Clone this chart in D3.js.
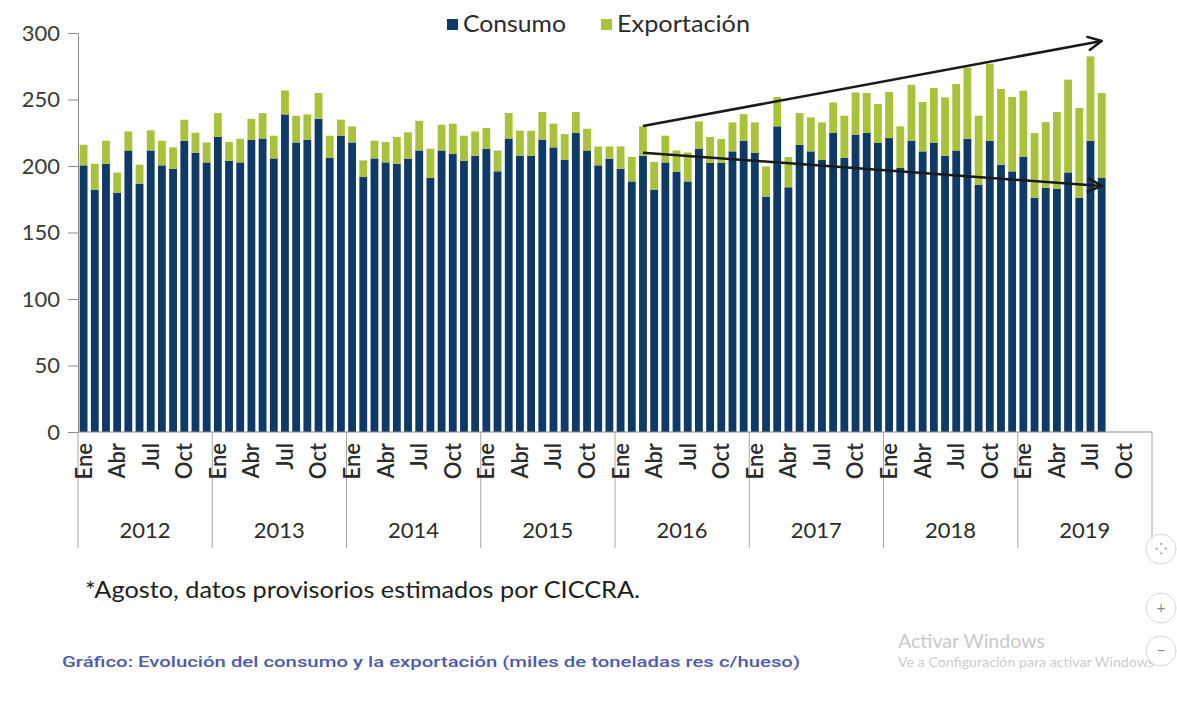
<!DOCTYPE html>
<html>
<head>
<meta charset="utf-8">
<script src="https://cdn.jsdelivr.net/npm/d3@7"></script>
<style>
  body { margin: 0; background: #fff; }
  svg { display: block; font-family: Lato, 'Open Sans', sans-serif; }
</style>
</head>
<body>
<svg id="svg" width="1177" height="702"></svg>
<script>
const years = [2012, 2013, 2014, 2015, 2016, 2017, 2018, 2019]
const meses = ['Ene', 'Feb', 'Mar', 'Abr', 'May', 'Jun', 'Jul', 'Ago', 'Sep', 'Oct', 'Nov', 'Dic']
const monthLabels = ['Ene', 'Abr', 'Jul', 'Oct']
const yTicks = [0, 50, 100, 150, 200, 250, 300]
const series = ['Consumo', 'Exportación']

// miles de toneladas res c/hueso, Ene 2012 - Ago 2019
const consumo = [
  200.5, 182, 201.7, 180, 211.7, 186.7, 211.7, 200.5, 198, 219, 210, 202.7,
  222, 204, 202.7, 219.8, 220.7, 205.7, 238.8, 217.7, 219.8, 235.5, 206, 222.8,
  217.7, 191.7, 205.7, 202.7, 201.7, 205.3, 211.7, 191, 211.7, 209, 204, 207.7,
  213, 196, 220.7, 207.7, 207.7, 219.8, 214, 204.7, 224.8, 211.7, 200.5, 205.5,
  198, 188.4, 207.7, 182.2, 202.7, 195.7, 188.4, 212.8, 202.3, 202.3, 211, 219,
  209.8, 177, 229.8, 184, 216, 211, 204.7, 224.8, 206, 223.5, 224.8, 217.3,
  221, 198.5, 219, 211, 217.3, 207.7, 211.7, 220.5, 186, 219, 201, 196,
  206.8, 176, 183.5, 183, 195.2, 176, 219, 191
]
const exportacion = [
  15.5, 19.7, 17.3, 15, 14.3, 14.3, 15.1, 18.5, 16, 15.8, 15, 15,
  17.8, 14, 17.8, 15.7, 19.1, 17.1, 18, 20.1, 19, 19.4, 16.8, 12,
  12.1, 12.5, 13.3, 15.3, 20.1, 20, 22.3, 22, 19.3, 22.8, 18.8, 18.3,
  15.6, 15.7, 19.1, 18.8, 18.8, 20.8, 17.8, 19.3, 15.8, 16.3, 14.2, 9.2,
  16.7, 18.4, 22.1, 20.8, 20.1, 16, 21.8, 20.7, 19.5, 18, 21.8, 20,
  23, 22.7, 22.1, 22.8, 23.8, 25.5, 28.1, 23, 31.8, 31.8, 30.1, 29.3,
  34.6, 31.3, 42, 37.1, 41.3, 43.9, 49.9, 53.5, 51.8, 57.9, 56.9, 55.9,
  49.8, 48.8, 49.5, 57.6, 69.7, 67.6, 63.4, 63.9
]

// flechas de tendencia dibujadas sobre el grafico
const tendencias = [
  { desde: 'Mar 2016', hasta: 'Ago 2019', v0: 230, v1: 294 },
  { desde: 'Mar 2016', hasta: 'Ago 2019', v0: 210, v1: 185 }
]

const nota = '*Agosto, datos provisorios estimados por CICCRA.'
const titulo = 'Gráfico: Evolución del consumo y la exportación (miles de toneladas res c/hueso)'

const colors = { Consumo: '#0f3a68', 'Exportación': '#a9c23c' }

const months = years.flatMap(y => meses.map(m => `${m} ${y}`))
const data = consumo.map((c, i) => ({ key: months[i], Consumo: c, 'Exportación': exportacion[i] }))

const plotLeft = 78
const plotRight = 1152
const plotTop = 33
const plotBottom = 432

const xScale = d3.scaleBand()
  .domain(months)
  .range([plotLeft, plotRight])
  .paddingInner(0.3)
  .paddingOuter(0.15)

const yScale = d3.scaleLinear()
  .domain([0, 300])
  .range([plotBottom, plotTop])

const svg = d3.select('#svg')
const bw = xScale.bandwidth()
const slotStart = m => xScale(m) - xScale.step() * 0.15

// barras apiladas
const stacked = d3.stack().keys(series)(data)
svg.append('g')
  .selectAll('g')
  .data(stacked)
  .join('g')
  .attr('fill', d => colors[d.key])
  .selectAll('rect')
  .data(d => d)
  .join('rect')
  .attr('x', d => xScale(d.data.key))
  .attr('y', d => yScale(d[1]))
  .attr('width', bw)
  .attr('height', d => yScale(d[0]) - yScale(d[1]))

// eje y
const yAxis = svg.append('g')
  .attr('transform', `translate(${plotLeft}, 0)`)
  .call(d3.axisLeft(yScale).tickValues(yTicks).tickSize(10).tickPadding(8).tickSizeOuter(0))
yAxis.select('.domain').attr('stroke', '#8c8c8c')
yAxis.selectAll('.tick line').attr('stroke', '#8c8c8c')
yAxis.selectAll('.tick text')
  .attr('font-size', 22)
  .attr('fill', '#3a3a3a')
  .attr('font-family', 'Lato, sans-serif')

// eje x
svg.append('line')
  .attr('x1', plotLeft).attr('x2', plotRight)
  .attr('y1', plotBottom).attr('y2', plotBottom)
  .attr('stroke', '#8c8c8c')

const bounds = years.map(y => slotStart(`Ene ${y}`)).concat([plotRight])
svg.append('g')
  .selectAll('line')
  .data(bounds)
  .join('line')
  .attr('x1', d => d).attr('x2', d => d)
  .attr('y1', plotBottom).attr('y2', 548)
  .attr('stroke', '#a6a6a6')

svg.append('g')
  .selectAll('text')
  .data(months.filter(m => monthLabels.includes(m.split(' ')[0])))
  .join('text')
  .attr('transform', d => `translate(${xScale(d) + bw / 2}, 443) rotate(-90)`)
  .attr('text-anchor', 'end')
  .attr('dy', '0.36em')
  .attr('font-size', 22)
  .attr('font-weight', 600)
  .attr('fill', '#2b2b2b')
  .text(d => d.split(' ')[0])

svg.append('g')
  .selectAll('text')
  .data(years)
  .join('text')
  .attr('x', d => (slotStart(`Ene ${d}`) + slotStart(`Dic ${d}`) + xScale.step()) / 2)
  .attr('y', 538)
  .attr('text-anchor', 'middle')
  .attr('font-size', 22)
  .attr('fill', '#2b2b2b')
  .text(d => d)

// flechas
svg.append('defs').append('marker')
  .attr('id', 'head')
  .attr('viewBox', '0 0 12 12')
  .attr('refX', 11)
  .attr('refY', 6)
  .attr('markerWidth', 17)
  .attr('markerHeight', 17)
  .attr('markerUnits', 'userSpaceOnUse')
  .attr('orient', 'auto')
  .append('path')
  .attr('d', 'M1,1 L11,6 L1,11')
  .attr('fill', 'none')
  .attr('stroke', '#1a1a1a')
  .attr('stroke-width', 1.8)

svg.append('g')
  .selectAll('line')
  .data(tendencias)
  .join('line')
  .attr('x1', d => xScale(d.desde) + bw / 2)
  .attr('y1', d => yScale(d.v0))
  .attr('x2', d => xScale(d.hasta) + bw / 2)
  .attr('y2', d => yScale(d.v1))
  .attr('stroke', '#1a1a1a')
  .attr('stroke-width', 2.5)
  .attr('marker-end', 'url(#head)')

// leyenda
const legend = svg.append('g')
const legendX = [447, 601]
const legendW = [103, 133]
series.forEach((s, i) => {
  legend.append('rect')
    .attr('x', legendX[i]).attr('y', 19)
    .attr('width', 11).attr('height', 11)
    .attr('fill', colors[s])
  legend.append('text')
    .attr('x', legendX[i] + 16).attr('y', 32)
    .attr('font-size', 24)
    .attr('fill', '#2b2b2b')
    .attr('textLength', legendW[i])
    .attr('lengthAdjust', 'spacingAndGlyphs')
    .text(s)
})

// textos
svg.append('text')
  .attr('x', 85).attr('y', 598)
  .attr('font-size', 24)
  .attr('fill', '#1e1e1e')
  .attr('textLength', 555)
  .attr('lengthAdjust', 'spacingAndGlyphs')
  .text(nota)

svg.append('text')
  .attr('x', 62).attr('y', 667)
  .attr('font-size', 15.5)
  .attr('font-weight', 500)
  .attr('font-family', 'Roboto, sans-serif')
  .attr('fill', '#4e5ca6')
  .attr('textLength', 738)
  .attr('lengthAdjust', 'spacingAndGlyphs')
  .text(titulo)

svg.append('text')
  .attr('x', 898).attr('y', 648)
  .attr('font-size', 19)
  .attr('fill', '#c9c9c9')
  .attr('textLength', 147)
  .attr('lengthAdjust', 'spacingAndGlyphs')
  .text('Activar Windows')

svg.append('text')
  .attr('x', 898).attr('y', 667)
  .attr('font-size', 13)
  .attr('fill', '#cdcdcd')
  .attr('textLength', 256)
  .attr('lengthAdjust', 'spacingAndGlyphs')
  .text('Ve a Configuración para activar Windows')

const buttons = [{ cy: 549, label: '⁘' }, { cy: 608, label: '+' }, { cy: 651, label: '−' }]
const btn = svg.append('g')
  .selectAll('g')
  .data(buttons)
  .join('g')
  .attr('transform', d => `translate(1161, ${d.cy})`)
btn.append('circle')
  .attr('r', 15)
  .attr('fill', '#fff')
  .attr('fill-opacity', 0.8)
  .attr('stroke', '#d8d8d8')
btn.append('text')
  .attr('text-anchor', 'middle')
  .attr('dy', '0.35em')
  .attr('font-size', 15)
  .attr('fill', '#888')
  .text(d => d.label)
</script>
</body>
</html>
